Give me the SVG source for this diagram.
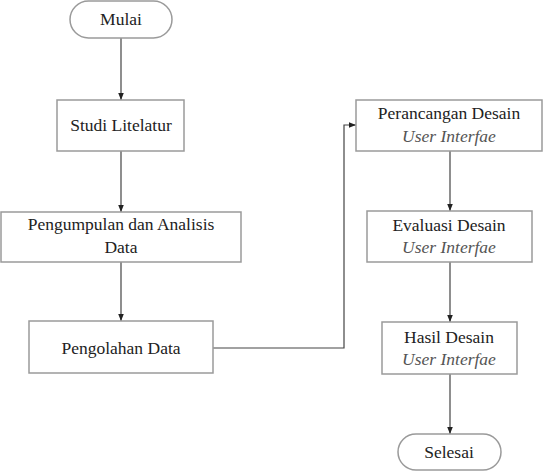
<svg xmlns="http://www.w3.org/2000/svg" width="543" height="473" viewBox="0 0 543 473">
<style>
.b{fill:#fff;stroke:#9a9a9a;stroke-width:1.5}
.t{font-family:"Liberation Serif","Times New Roman",serif;font-size:17.5px;fill:#222;text-anchor:middle}
.i{font-style:italic;fill:#555}
.c{fill:none;stroke:#444;stroke-width:1.2}
</style>
<defs>
<marker id="a" viewBox="0 0 10 10" refX="10" refY="5" markerWidth="6" markerHeight="6" orient="auto"><path d="M0,1 L10,5 L0,9 z" fill="#222"/></marker>
</defs>
<rect width="543" height="473" fill="#fff"/>
<g id="connectors">
<path class="c" d="M121,38 V100" marker-end="url(#a)"/>
<path class="c" d="M121,151 V212" marker-end="url(#a)"/>
<path class="c" d="M121,262 V321" marker-end="url(#a)"/>
<path class="c" d="M213,348 H344 V125 H356" marker-end="url(#a)"/>
<path class="c" d="M450,151 V211" marker-end="url(#a)"/>
<path class="c" d="M450,262 V322" marker-end="url(#a)"/>
<path class="c" d="M450,374 V434" marker-end="url(#a)"/>
</g>
<g id="mulai"><rect class="b" x="70" y="1" width="102" height="37" rx="18.5"/><text class="t" x="121" y="25">Mulai</text></g>
<g id="studi"><rect class="b" x="57" y="100" width="127" height="51"/><text class="t" x="121" y="131">Studi Litelatur</text></g>
<g id="pengumpulan"><rect class="b" x="1" y="212" width="240" height="50"/><text class="t" x="121" y="230">Pengumpulan dan Analisis</text><text class="t" x="121" y="253">Data</text></g>
<g id="pengolahan"><rect class="b" x="29" y="321" width="184" height="52"/><text class="t" x="121" y="354">Pengolahan Data</text></g>
<g id="perancangan"><rect class="b" x="356" y="100" width="186" height="51"/><text class="t" x="449" y="119">Perancangan Desain</text><text class="t i" x="449" y="142">User Interfae</text></g>
<g id="evaluasi"><rect class="b" x="367" y="211" width="165" height="51"/><text class="t" x="449" y="231">Evaluasi Desain</text><text class="t i" x="449" y="253">User Interfae</text></g>
<g id="hasil"><rect class="b" x="382" y="322" width="135" height="52"/><text class="t" x="449" y="343">Hasil Desain</text><text class="t i" x="449" y="365">User Interfae</text></g>
<g id="selesai"><rect class="b" x="398" y="434" width="103" height="36" rx="18"/><text class="t" x="449" y="458">Selesai</text></g>
</svg>
